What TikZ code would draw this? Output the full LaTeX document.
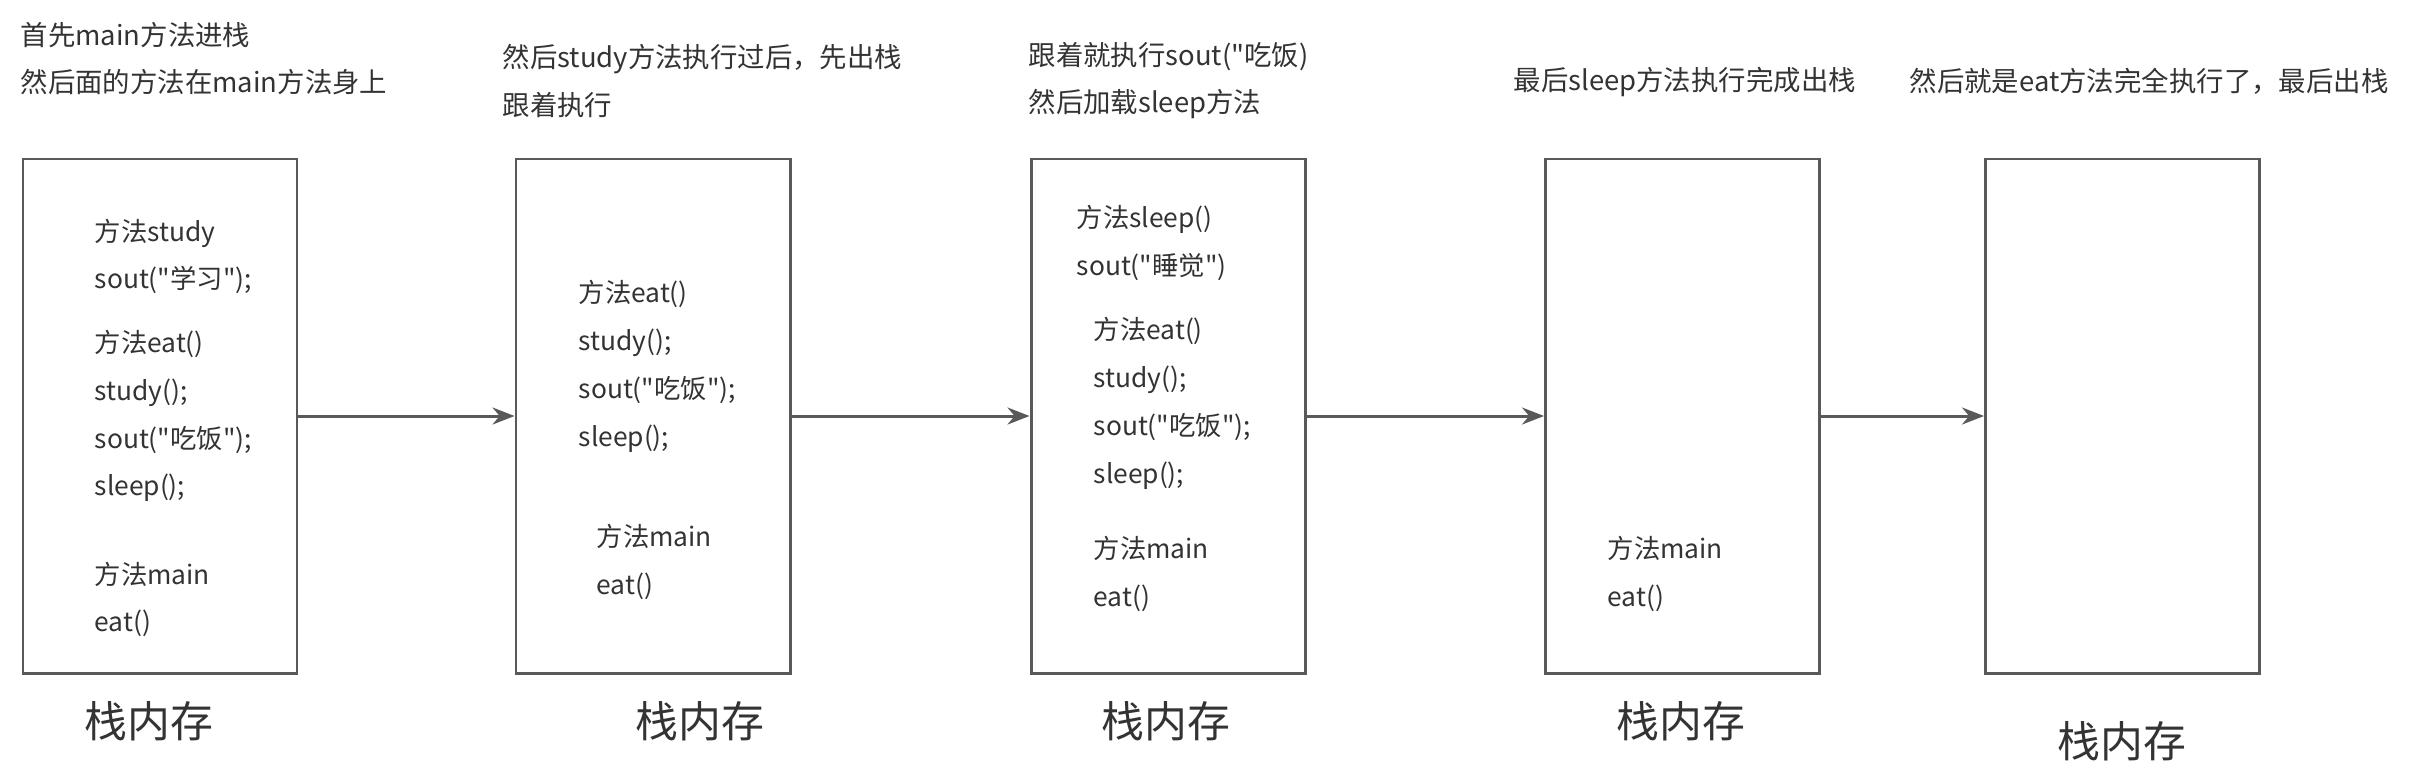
\documentclass[tikz,border=0pt]{standalone}
\usepackage{fontspec}
\setmainfont{Noto Sans CJK SC}[Ligatures=TeXOff]
\usetikzlibrary{arrows.meta}
\definecolor{linegray}{HTML}{595959}
\definecolor{inkgray}{HTML}{333333}
\begin{document}
\begin{tikzpicture}[auto,
    stack/.style ={draw=linegray, line width=0.85pt, minimum width=2.74cm, minimum height=5.14cm, inner sep=0pt},
    method/.style ={anchor=west, align=left, inner sep=0pt, text=inkgray, font=\fontsize{7.5}{13.6}\selectfont},
    note/.style ={method, font=\fontsize{7.8}{13.4}\selectfont},
    caption/.style ={inner sep=0pt, text=inkgray, font=\fontsize{12.2}{14}\selectfont}]
   \useasboundingbox (0,0) rectangle (24.16,-7.82);
   \node[note] (T1) at (0.20,-0.585) {首先main方法进栈\\然后面的方法在main方法身上};
   \node[note] (T2) at (5.02,-0.81) {然后study方法执行过后，先出栈\\跟着执行};
   \node[note] (T3) at (10.28,-0.81) {跟着就执行sout("吃饭)\\然后加载sleep方法};
   \node[note] (T4) at (15.13,-0.817) {最后sleep方法执行完成出栈};
   \node[note] (T5) at (19.09,-0.817) {然后就是eat方法完全执行了，最后出栈};
   \node[stack] (S1) at (1.60,-4.16) {};
   \node[stack] (S2) at (6.53,-4.16) {};
   \node[stack] (S3) at (11.68,-4.16) {};
   \node[stack] (S4) at (16.825,-4.16) {};
   \node[stack] (S5) at (21.225,-4.16) {};
   \node[method] (S1a) at (0.94,-2.565) {方法study\\sout("学习");};
   \node[method] (S1b) at (0.94,-4.16) {方法eat()\\study();\\sout("吃饭");\\sleep();};
   \node[method] (S1c) at (0.94,-5.995) {方法main\\eat()};
   \node[method] (S2b) at (5.78,-3.665) {方法eat()\\study();\\sout("吃饭");\\sleep();};
   \node[method] (S2c) at (5.96,-5.62) {方法main\\eat()};
   \node[method] (S3a) at (10.76,-2.43) {方法sleep()\\sout("睡觉")};
   \node[method] (S3b) at (10.93,-4.035) {方法eat()\\study();\\sout("吃饭");\\sleep();};
   \node[method] (S3c) at (10.93,-5.74) {方法main\\eat()};
   \node[method] (S4c) at (16.07,-5.74) {方法main\\eat()};
   \node[caption] (C1) at (1.49,-7.21) {栈内存};
   \node[caption] (C2) at (7.00,-7.21) {栈内存};
   \node[caption] (C3) at (11.66,-7.21) {栈内存};
   \node[caption] (C4) at (16.81,-7.21) {栈内存};
   \node[caption] (C5) at (21.22,-7.41) {栈内存};
   \draw[line width=0.85pt, draw=linegray, -{Stealth[length=0.22cm, width=0.17cm]}] (S1) to (S2);
   \draw[line width=0.85pt, draw=linegray, -{Stealth[length=0.22cm, width=0.17cm]}] (S2) to (S3);
   \draw[line width=0.85pt, draw=linegray, -{Stealth[length=0.22cm, width=0.17cm]}] (S3) to (S4);
   \draw[line width=0.85pt, draw=linegray, -{Stealth[length=0.22cm, width=0.17cm]}] (S4) to (S5);
\end{tikzpicture}
\end{document}
